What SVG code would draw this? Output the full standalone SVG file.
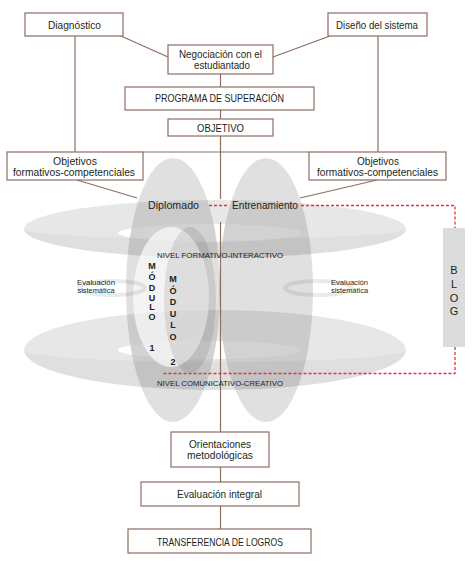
<svg xmlns="http://www.w3.org/2000/svg" width="472" height="567" viewBox="0 0 472 567">
<style>
.box{fill:#fff;stroke:#8c6d62;stroke-width:1.2}
.ln{stroke:#8c6d62;stroke-width:1.2;fill:none}
.red{stroke:#e2323e;stroke-width:1.3;fill:none;stroke-dasharray:3 2}
text{font-family:"Liberation Sans",Arial,sans-serif;fill:#231f20;text-anchor:middle}
.t{font-size:10.5px}
.s{font-size:7px}
.xs{font-size:6.5px}
.m{font-size:9px;font-weight:bold}
.b{font-size:11px}
.ring{fill:#000;fill-opacity:0.095}
.front{fill:#000;fill-opacity:0.03}
.vert{fill:#000;fill-opacity:0.12}
.small{fill:none;stroke:#000;stroke-opacity:0.08;stroke-width:4}
</style>
<defs>
  <mask id="holeMask" maskUnits="userSpaceOnUse" x="0" y="0" width="472" height="567">
    <rect width="472" height="567" fill="#fff"/>
    <ellipse cx="173" cy="290" rx="47" ry="132" fill="#666"/>
    <ellipse cx="266" cy="290" rx="47" ry="132" fill="#666"/>
  </mask>
</defs>
<rect width="472" height="567" fill="#fff"/>
<g id="background-shapes">
  <ellipse class="ring" cx="215" cy="229" rx="191" ry="29"/>
  <path class="front" d="M24,229 A191,10 0 0 0 406,229 A191,29 0 0 1 24,229 Z"/>
  <ellipse class="ring" cx="215" cy="350" rx="191" ry="40"/>
  <path class="front" d="M24,350 A191,12 0 0 0 406,350 A191,40 0 0 1 24,350 Z"/>
  <g mask="url(#holeMask)">
    <ellipse fill="#fff" cx="210" cy="233" rx="92" ry="9"/>
    <ellipse fill="#fff" cx="210" cy="350" rx="92" ry="9"/>
  </g>
  <ellipse class="vert" cx="173" cy="290" rx="47" ry="132"/>
  <ellipse class="vert" cx="266" cy="290" rx="47" ry="132"/>
  <ellipse fill="#fff" fill-opacity="0.65" cx="171" cy="297" rx="38" ry="70"/>
  <ellipse fill="#000" fill-opacity="0.09" cx="190" cy="300" rx="26" ry="73"/>
  <ellipse class="small" cx="112" cy="288" rx="33" ry="7"/>
  <ellipse class="small" cx="318" cy="288" rx="33" ry="7"/>
</g>
<g id="connectors">
  <line class="ln" x1="121" y1="36" x2="168" y2="57"/>
  <line class="ln" x1="330" y1="36" x2="273" y2="57"/>
  <line class="ln" x1="75" y1="36" x2="75" y2="152"/>
  <line class="ln" x1="378" y1="36" x2="378" y2="152"/>
  <line class="ln" x1="220.5" y1="74" x2="220.5" y2="87"/>
  <line class="ln" x1="220.5" y1="110" x2="220.5" y2="119"/>
  <line class="ln" x1="220.5" y1="136" x2="220.5" y2="199"/>
  <line class="ln" x1="220.5" y1="222" x2="220.5" y2="432"/>
  <line class="ln" x1="143" y1="152" x2="309" y2="152"/>
  <line class="ln" x1="77" y1="180" x2="137" y2="198"/>
  <line class="ln" x1="377" y1="180" x2="300" y2="198"/>
  <line class="ln" x1="220.5" y1="467" x2="220.5" y2="482"/>
  <line class="ln" x1="220.5" y1="506" x2="220.5" y2="529"/>
  <path class="red" d="M209,205.5 H229"/>
  <path class="red" d="M301,205.5 H455 V228"/>
  <path class="red" d="M455,347 V373.5 H163"/>
</g>
<g id="diagnostico">
  <rect class="box" x="25" y="13" width="98" height="23"/>
  <text class="t" x="74.5" y="29" textLength="53" lengthAdjust="spacingAndGlyphs">Diagnóstico</text>
</g>
<g id="diseno">
  <rect class="box" x="328" y="13" width="99" height="23"/>
  <text class="t" x="377" y="29" textLength="82" lengthAdjust="spacingAndGlyphs">Diseño del sistema</text>
</g>
<g id="negociacion">
  <rect class="box" x="168" y="45" width="105" height="29"/>
  <text class="t" x="220.5" y="58" textLength="83" lengthAdjust="spacingAndGlyphs">Negociación con el</text>
  <text class="t" x="222" y="68.5" textLength="56" lengthAdjust="spacingAndGlyphs">estudiantado</text>
</g>
<g id="programa">
  <rect class="box" x="125" y="87" width="189" height="23"/>
  <text class="t" x="219.5" y="102" textLength="129" lengthAdjust="spacingAndGlyphs">PROGRAMA DE SUPERACIÓN</text>
</g>
<g id="objetivo">
  <rect class="box" x="168" y="119" width="105" height="17"/>
  <text class="t" x="220.5" y="131.5" textLength="47" lengthAdjust="spacingAndGlyphs">OBJETIVO</text>
</g>
<g id="objetivos-izq">
  <rect class="box" x="7" y="152" width="136" height="28"/>
  <text class="t" x="75" y="164.5" textLength="44" lengthAdjust="spacingAndGlyphs">Objetivos</text>
  <text class="t" x="74" y="176" textLength="122" lengthAdjust="spacingAndGlyphs">formativos-competenciales</text>
</g>
<g id="objetivos-der">
  <rect class="box" x="309" y="152" width="137" height="28"/>
  <text class="t" x="378" y="164.5" textLength="42" lengthAdjust="spacingAndGlyphs">Objetivos</text>
  <text class="t" x="377.5" y="176" textLength="121" lengthAdjust="spacingAndGlyphs">formativos-competenciales</text>
</g>
<g id="diplomado">
  <text class="t" x="173.5" y="208.5" textLength="51" lengthAdjust="spacingAndGlyphs">Diplomado</text>
</g>
<g id="entrenamiento">
  <text class="t" x="265" y="208.5" textLength="66" lengthAdjust="spacingAndGlyphs">Entrenamiento</text>
</g>
<g id="nivel-formativo">
  <text class="s" x="220" y="258" textLength="126" lengthAdjust="spacingAndGlyphs">NIVEL FORMATIVO-INTERACTIVO</text>
</g>
<g id="nivel-comunicativo">
  <text class="s" x="220" y="386" textLength="126" lengthAdjust="spacingAndGlyphs">NIVEL COMUNICATIVO-CREATIVO</text>
</g>
<g id="modulo-1">
  <text class="m" x="152" y="269">M</text>
  <text class="m" x="152" y="280">Ó</text>
  <text class="m" x="152" y="291">D</text>
  <text class="m" x="152" y="300.5">U</text>
  <text class="m" x="152" y="310">L</text>
  <text class="m" x="152" y="319.5">O</text>
  <text class="m" x="152" y="351">1</text>
</g>
<g id="modulo-2">
  <text class="m" x="173" y="281.5">M</text>
  <text class="m" x="173" y="293.5">Ó</text>
  <text class="m" x="173" y="305">D</text>
  <text class="m" x="173" y="316.5">U</text>
  <text class="m" x="173" y="328">L</text>
  <text class="m" x="173" y="340">O</text>
  <text class="m" x="173" y="365">2</text>
</g>
<g id="evaluacion-izq">
  <text class="xs" x="96" y="285" textLength="38" lengthAdjust="spacingAndGlyphs">Evaluación</text>
  <text class="xs" x="96" y="293" textLength="37" lengthAdjust="spacingAndGlyphs">sistemática</text>
</g>
<g id="evaluacion-der">
  <text class="xs" x="349.5" y="285" textLength="37" lengthAdjust="spacingAndGlyphs">Evaluación</text>
  <text class="xs" x="349.5" y="293" textLength="37" lengthAdjust="spacingAndGlyphs">sistemática</text>
</g>
<g id="blog">
  <rect x="443" y="228" width="22" height="119" fill="#dcdcdc"/>
  <text class="b" x="454" y="274">B</text>
  <text class="b" x="454" y="288">L</text>
  <text class="b" x="454" y="302">O</text>
  <text class="b" x="454" y="315">G</text>
</g>
<g id="orientaciones">
  <rect class="box" x="171" y="432" width="98" height="35"/>
  <text class="t" x="220" y="448" textLength="62" lengthAdjust="spacingAndGlyphs">Orientaciones</text>
  <text class="t" x="220" y="458.5" textLength="66" lengthAdjust="spacingAndGlyphs">metodológicas</text>
</g>
<g id="evaluacion-integral">
  <rect class="box" x="141" y="482" width="158" height="24"/>
  <text class="t" x="219.5" y="498" textLength="85" lengthAdjust="spacingAndGlyphs">Evaluación integral</text>
</g>
<g id="transferencia">
  <rect class="box" x="128" y="529" width="183" height="24"/>
  <text class="t" x="220" y="545.5" textLength="126" lengthAdjust="spacingAndGlyphs">TRANSFERENCIA DE LOGROS</text>
</g>
</svg>
